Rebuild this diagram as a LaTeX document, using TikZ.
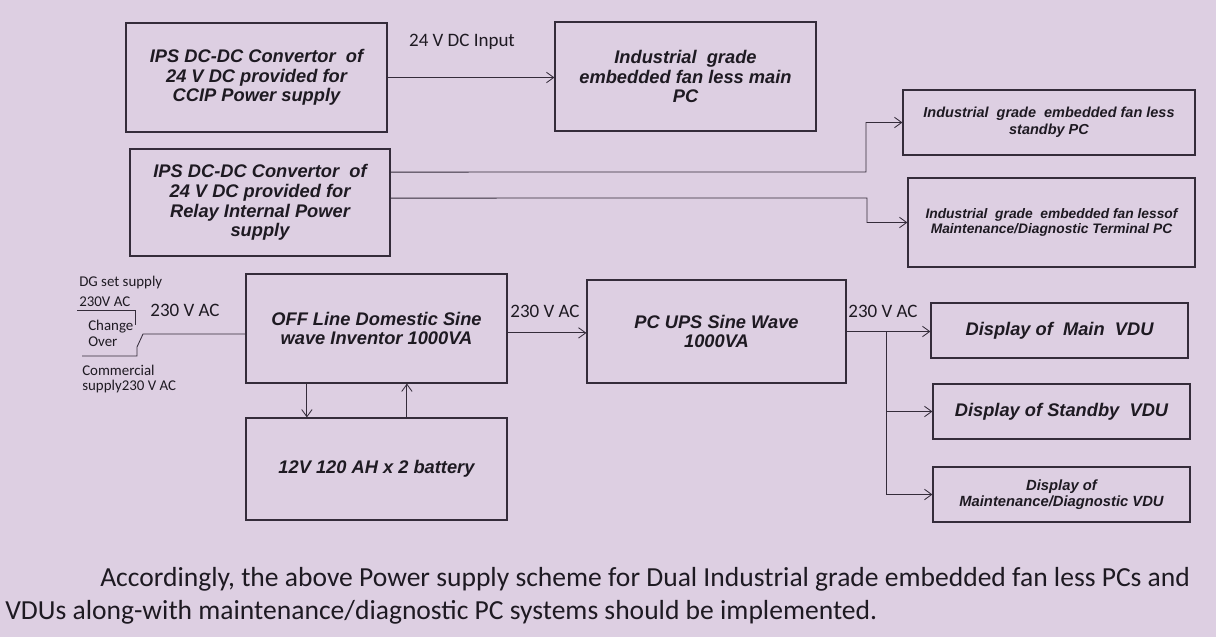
\documentclass[tikz,border=0pt]{standalone}
\usepackage{fontspec}
\setmainfont{Liberation Sans}
\newfontfamily\calibri{Carlito}
\usetikzlibrary{arrows.meta,positioning,calc}
\definecolor{ScanBg}{RGB}{221,207,226}
\definecolor{ScanInk}{RGB}{52,44,58}
\definecolor{ScanText}{RGB}{30,26,34}
\tikzset{
  blockbox/.style={draw=ScanInk,line width=0.8pt,align=center,inner sep=2pt,text=ScanText,font=\fontsize{13}{14}\selectfont\bfseries\itshape},
  smallbox/.style={blockbox,font=\fontsize{10.3}{11.8}\selectfont\bfseries\itshape},
  feedarrow/.style={-{Straight Barb[length=1.8mm,width=2.6mm]},line width=0.6pt,draw=ScanInk},
  feedline/.style={line width=0.6pt,draw=ScanInk},
  acnote/.style={font=\calibri\fontsize{13.5}{15}\selectfont,text=ScanText,inner sep=0pt},
  tinynote/.style={font=\calibri\fontsize{10.6}{12}\selectfont,text=ScanText,inner sep=0pt,anchor=west},
  bodytext/.style={font=\calibri\fontsize{19.6}{21}\selectfont,text=ScanText,inner sep=0pt,anchor=west}
}

\begin{document}
\begin{tikzpicture}[x=0.025cm,y=-0.025cm]
\fill[ScanBg] (0,0) rectangle (1216,637);
\useasboundingbox (0,0) rectangle (1216,637);
% converters and PCs
\node[blockbox,minimum width=6.525cm,minimum height=2.725cm] (ipsA) at (256.5,77.5) {IPS DC-DC Convertor\ \ of\\24 V DC provided for\\CCIP Power supply};
\node[blockbox,minimum width=6.525cm,minimum height=2.725cm] (mainpc) at (685.5,76.5) {Industrial\ \ grade\\embedded fan less main\\PC};
\node[blockbox,minimum width=6.5cm,minimum height=2.675cm] (ipsB) at (260,202.5) {IPS DC-DC Convertor\ \ of\\24 V DC provided for\\Relay Internal Power\\supply};
\node[smallbox,minimum width=7.3cm,minimum height=1.625cm] (stdbypc) at (1049,122.5) {Industrial\ \ grade\ \ embedded fan less\\standby PC};
\node[smallbox,font=\fontsize{9.8}{11}\selectfont\bfseries\itshape,minimum width=7.175cm,minimum height=2.225cm] (maintpc) at (1051.5,222.5) {Industrial\ \ grade\ \ embedded fan lessof\\Maintenance/Diagnostic Terminal PC};
% AC chain
\node[blockbox,minimum width=6.525cm,minimum height=2.725cm] (inverter) at (376.5,328.5) {OFF Line Domestic Sine\\wave Inventor 1000VA};
\node[blockbox,minimum width=6.475cm,minimum height=2.575cm] (ups) at (716.5,331.5) {PC UPS Sine Wave\\1000VA};
\node[blockbox,minimum width=6.525cm,minimum height=2.55cm] (battery) at (376.5,469) {12V 120 AH x 2 battery};
\node[blockbox,minimum width=6.425cm,minimum height=1.375cm] (dispA) at (1059.5,330.5) {Display of\ \ Main\ \ VDU};
\node[blockbox,minimum width=6.425cm,minimum height=1.375cm] (dispB) at (1061.5,411.5) {Display of Standby\ \ VDU};
\node[smallbox,font=\fontsize{10.5}{11.8}\selectfont\bfseries\itshape,minimum width=6.425cm,minimum height=1.375cm] (dispC) at (1061.5,494.5) {Display of\\Maintenance/Diagnostic VDU};
% labels
\node[acnote] (dcin) at (462,42) {24 V DC Input};
\node[acnote] (acin) at (185,310) {230 V AC};
\node[acnote] (acinv) at (545,311) {230 V AC};
\node[acnote] (acups) at (883,311) {230 V AC};
\node[tinynote] (dgset) at (79,283) {DG set supply};
\node[tinynote] (dgvolt) at (79,302) {230V AC};
\node[tinynote] (chgA) at (88,327) {Change};
\node[tinynote] (chgB) at (88,342) {Over};
\node[tinynote] (comA) at (82,370) {Commercial};
\node[tinynote] (comB) at (82,387) {supply230 V AC};
% change over switch
\coordinate (dgend) at (135,325);
\coordinate (comend) at (137,347);
\coordinate (lever) at (143,334);
\draw[feedline] (77,310) -| (dgend);
\draw[feedline] (82,356) -| (comend) -- (lever) -- (lever -| inverter.west);
% DC feeds
\draw[feedarrow] (ipsA.east) -- (ipsA.east -| mainpc.west);
\draw[feedarrow] ([yshift=0.76cm]ipsB.east) -- (866,172) |- (stdbypc.west);
\draw[feedarrow] ([yshift=0.11cm]ipsB.east) -- (867,198) |- (maintpc.west);
% AC feeds
\draw[feedarrow] ([yshift=-0.11cm]inverter.east) -- ([yshift=-0.11cm]inverter.east -| ups.west);
\draw[feedarrow] ([xshift=-1.74cm]inverter.south) -- ([xshift=-1.74cm]battery.north);
\draw[feedarrow] ([xshift=0.76cm]battery.north) -- ([xshift=0.76cm]inverter.south);
\coordinate (split) at (886,331.5);
\draw[feedarrow] (ups.east) -- (ups.east -| dispA.west);
\draw[feedarrow] (split) |- (dispB.west);
\draw[feedarrow] (split) |- (dispC.west);
% note below
\node[bodytext] (noteA) at (100,579) {Accordingly, the above Power supply scheme for Dual Industrial grade embedded fan less PCs and};
\node[bodytext] (noteB) at (5,612) {VDUs along-with maintenance/diagnostic PC systems should be implemented.};
\end{tikzpicture}
\end{document}
